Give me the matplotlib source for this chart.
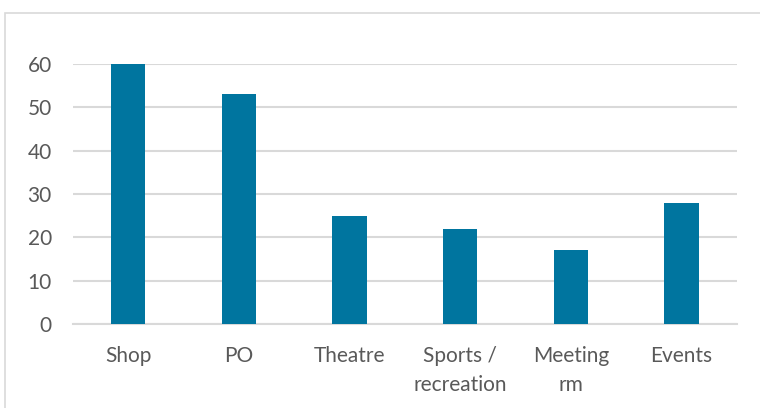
import matplotlib.pyplot as plt
from matplotlib.patches import Rectangle

categories = ["Shop", "PO", "Theatre", "Sports /\nrecreation", "Meeting\nrm", "Events"]
values = [60, 53, 25, 22, 17, 28]
y_ticks = [0, 10, 20, 30, 40, 50, 60]

BAR_COLOR = "#00759f"
GRID_COLOR = "#d9d9d9"
TEXT_COLOR = "#595959"

plt.rcParams["font.family"] = ["Lato", "DejaVu Sans"]

fig = plt.figure(figsize=(7.6, 4.08), dpi=100)

# chart area border (runs off the right and bottom edges)
fig.patches.append(Rectangle((5 / 760, -0.05), 1.0, 1 - 13 / 408 + 0.05,
                             transform=fig.transFigure, fill=False,
                             edgecolor=GRID_COLOR, linewidth=1.2))

ax = fig.add_axes([72.7 / 760, 1 - 324 / 408, (737 - 72.7) / 760, 260 / 408])

x = range(len(categories))
ax.bar(x, values, width=0.31, color=BAR_COLOR, zorder=3)

ax.set_xlim(-0.5, len(categories) - 0.5)
ax.set_ylim(0, 60)
ax.set_yticks(y_ticks)
ax.set_xticks(list(x))
ax.set_xticklabels(categories, linespacing=1.55)

ax.yaxis.grid(True, color=GRID_COLOR, linewidth=1.5, zorder=0)
ax.set_axisbelow(True)
for side in ["top", "right", "left"]:
    ax.spines[side].set_visible(False)
ax.spines["bottom"].set_color(GRID_COLOR)
ax.spines["bottom"].set_linewidth(1.5)

ax.tick_params(axis="both", length=0, labelsize=15, labelcolor=TEXT_COLOR)
ax.tick_params(axis="y", pad=15)
ax.tick_params(axis="x", pad=16)

fig.savefig("out.png", dpi=100)
